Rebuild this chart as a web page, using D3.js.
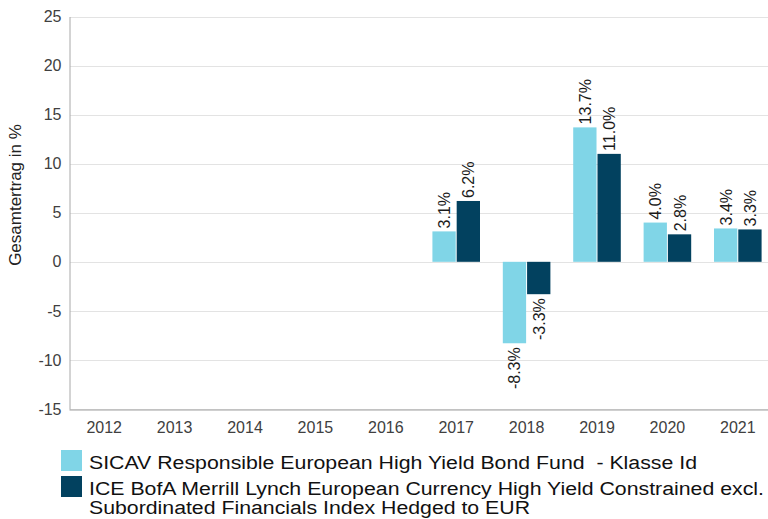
<!DOCTYPE html>
<html><head><meta charset="utf-8">
<script src="https://cdn.jsdelivr.net/npm/d3@7"></script>
<style>
html,body{margin:0;padding:0;background:#fff;}
svg{display:block;font-family:"Liberation Sans",Arial,sans-serif;}
</style></head>
<body><svg id="c" width="768" height="519"></svg>
<script>
const years = ["2012","2013","2014","2015","2016","2017","2018","2019","2020","2021"];
const fundValues = [null,null,null,null,null,3.1,-8.3,13.7,4.0,3.4];
const indexValues = [null,null,null,null,null,6.2,-3.3,11.0,2.8,3.3];
const yTicks = [-15,-10,-5,0,5,10,15,20,25];
const seriesNames = [
  "SICAV Responsible European High Yield Bond Fund \u00a0- Klasse Id",
  "ICE BofA Merrill Lynch European Currency High Yield Constrained excl.",
  "Subordinated Financials Index Hedged to EUR"
];
const yTitle = "Gesamtertrag in %";
const colors = ["#80d5e7","#02415f"];

const svg = d3.select("#c");
const x = d3.scaleBand().domain(years).range([69, 773]);
const y = d3.scaleLinear().domain([-15,25]).range([409,16.5]);
const x1 = d3.scaleBand().domain([0,1]).range([0, x.bandwidth()]).paddingInner(0.04).paddingOuter(0.47);

// gridlines
svg.append("g").selectAll("line").data(yTicks).join("line")
  .attr("x1",70).attr("x2",768)
  .attr("y1",d=>Math.round(y(d))+0.5).attr("y2",d=>Math.round(y(d))+0.5)
  .attr("stroke","#e3e3e3").attr("stroke-width",1);

// y axis
const yAxis = d3.axisLeft(y).tickValues(yTicks).tickFormat(d=>String(d)).tickSize(0).tickPadding(8);
const gy = svg.append("g").attr("transform","translate(69.5,0)").call(yAxis);
gy.select(".domain").attr("stroke","#a8a8a8");
gy.selectAll("text").attr("font-size","16px").attr("fill","#404040").attr("font-family","Liberation Sans, Arial, sans-serif");

// x axis
const xAxis = d3.axisBottom(x).tickSize(0).tickPadding(12);
const gx = svg.append("g").attr("transform",`translate(0,${Math.round(y(-15))+0.5})`).call(xAxis);
gx.select(".domain").attr("stroke","#a0a0a0");
gx.selectAll("text").attr("font-size","16px").attr("fill","#404040").attr("font-family","Liberation Sans, Arial, sans-serif");

// y title
svg.append("text").attr("transform","translate(21,195) rotate(-90)")
  .attr("text-anchor","middle").attr("font-size","17px").attr("fill","#222").text(yTitle);

// bars
const data = [];
years.forEach((yr,i)=>{
  [fundValues[i], indexValues[i]].forEach((v,s)=>{ if(v!==null) data.push({yr,s,v}); });
});
const gb = svg.append("g");
gb.selectAll("rect").data(data).join("rect")
  .attr("x",d=>x(d.yr)+x1(d.s))
  .attr("width",x1.bandwidth())
  .attr("y",d=>y(Math.max(0,d.v)))
  .attr("height",d=>Math.abs(y(d.v)-y(0)))
  .attr("fill",d=>colors[d.s]);

// labels
gb.selectAll("text").data(data).join("text")
  .attr("transform",d=>{
    const cx = x(d.yr)+x1(d.s)+x1.bandwidth()/2 + 6;
    const ty = d.v>=0 ? y(d.v)-3 : y(d.v)+4;
    return `translate(${cx},${ty}) rotate(-90)`;
  })
  .attr("text-anchor",d=>d.v>=0?"start":"end")
  .attr("font-size","16px").attr("fill","#1a1a1a")
  .text(d=>d.v.toFixed(1)+"%");

// legend
const lg = svg.append("g");
lg.append("rect").attr("x",61).attr("y",450).attr("width",21).attr("height",21).attr("fill",colors[0]);
lg.append("rect").attr("x",61).attr("y",476).attr("width",21).attr("height",21).attr("fill",colors[1]);
const legLines = [
  {t:seriesNames[0], y:469, w:608},
  {t:seriesNames[1], y:495, w:675},
  {t:seriesNames[2], y:514, w:441}
];
legLines.forEach(l=>{
  lg.append("text").attr("x",89).attr("y",l.y).attr("font-size","18px").attr("fill","#111")
    .attr("textLength",l.w).attr("lengthAdjust","spacingAndGlyphs").text(l.t);
});
</script></body></html>
